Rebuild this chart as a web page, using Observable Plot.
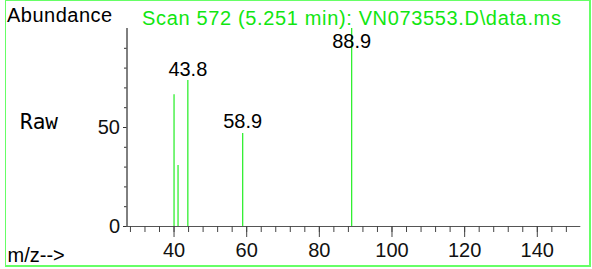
<!DOCTYPE html>
<html><head><meta charset="utf-8">
<script src="https://cdn.jsdelivr.net/npm/d3@7"></script>
<script src="https://cdn.jsdelivr.net/npm/@observablehq/plot@0.6"></script>
<style>
body{margin:0;background:#fff}
#wrap{position:relative;width:592px;height:269px;overflow:hidden}
#border{position:absolute;left:5px;top:0;width:586px;height:267px;box-sizing:border-box;border:2px solid #66ff66;border-left-width:1.5px;border-top-width:1.5px;pointer-events:none}
</style>
</head><body>
<div id="wrap"><div id="border"></div></div>
<script>
// Data
const mz = [40.0, 41.1, 43.8, 58.9, 88.9];
const abundance = [66.5, 30.8, 73.7, 47.0, 100];
const labeledPeaks = [43.8, 58.9, 88.9];
const xMajorTicks = [40, 60, 80, 100, 120, 140];
const xMinorTicks = [28,32,36,40,44,48,52,56,60,64,68,72,76,80,84,88,92,96,100,104,108,112,116,120,124,128,132,136,140,144,148];
const yTickLabels = [0, 50];
const yMinorTicks = [10, 20, 30, 40, 60, 70, 80, 90];
const titleText = "Scan 572 (5.251 min): VN073553.D\\data.ms";
const yTitle = "Abundance";
const xTitle = "m/z-->";
const sideText = "Raw";

const peaks = mz.map((m, i) => ({mz: m, ab: abundance[i]}));
const labels = labeledPeaks.map(m => ({mz: m, ab: abundance[mz.indexOf(m)]}));

const font = "'Liberation Sans', Arial, sans-serif";
const chart = Plot.plot({
  width: 592, height: 269,
  marginLeft: 126.5, marginRight: 12.7, marginTop: 28, marginBottom: 43,
  x: {domain: [27.05, 151.7]},
  y: {domain: [0, 100]},
  style: {fontFamily: font, fontSize: "20px", background: "transparent", color: "#111"},
  marks: [
    Plot.ruleX(peaks, {x: "mz", y1: 0, y2: "ab", stroke: "#22ee22", strokeWidth: 1.2}),
    Plot.frame({anchor: "left", stroke: "#000"}),
    Plot.frame({anchor: "bottom", stroke: "#555"}),
    Plot.axisX({ticks: xMinorTicks, tickSize: 6, tickFormat: () => "", stroke: "#444", label: null}),
    Plot.axisX({ticks: xMajorTicks, tickSize: 11, tickPadding: 5, stroke: "#444", fill: "#111", label: null}),
    Plot.axisY({ticks: yMinorTicks, tickSize: 2.5, tickFormat: () => "", stroke: "#333", label: null}),
    Plot.axisY({ticks: yTickLabels, tickSize: 3.5, tickPadding: 3.5, stroke: "#333", fill: "#111", label: null}),
    Plot.text(labels, {x: "mz", y: d => Math.min(d.ab, 87.4), text: d => d.mz.toFixed(1), dy: -5, lineAnchor: "bottom", fill: "#000", fontSize: 20}),
    Plot.text([yTitle], {frameAnchor: "top-left", text: d => d, dx: -120, dy: -7, textAnchor: "start", lineAnchor: "bottom", fill: "#000", fontSize: 20}),
    Plot.text([titleText], {frameAnchor: "top-left", text: d => d, dx: 15, dy: -4, textAnchor: "start", lineAnchor: "bottom", fill: "#11e611", fontSize: 20}),
    Plot.text([xTitle], {frameAnchor: "top-left", text: d => d, dx: -119.5, dy: 233, textAnchor: "start", lineAnchor: "bottom", fill: "#000", fontSize: 20}),
    Plot.text([sideText], {frameAnchor: "top-left", text: d => d, dx: -107, dy: 100, textAnchor: "start", lineAnchor: "bottom", fill: "#000", fontSize: 21, fontFamily: "'DejaVu Sans Mono', monospace"})
  ]
});
d3.select(chart).selectAll("text")
  .filter(function() { return this.textContent === titleText; })
  .attr("letter-spacing", "0.65px");
d3.select(chart).selectAll("text")
  .filter(function() { return this.textContent === yTitle; })
  .attr("letter-spacing", "0.5px");
document.getElementById("wrap").prepend(chart);
</script>
</body></html>
